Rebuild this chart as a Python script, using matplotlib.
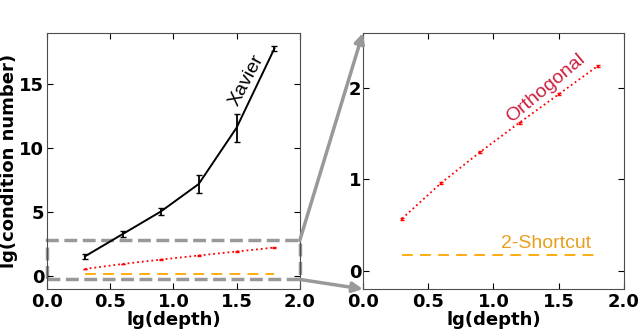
import numpy as np
import matplotlib
matplotlib.use("Agg")
import matplotlib.pyplot as plt
from matplotlib.patches import Rectangle, ConnectionPatch

depth = [0.3, 0.6, 0.9, 1.2, 1.5, 1.8]
xavier = [1.55, 3.3, 5.05, 7.2, 11.6, 17.8]
xavier_err = [0.2, 0.25, 0.3, 0.7, 1.1, 0.2]
orthogonal = [0.57, 0.96, 1.30, 1.62, 1.93, 2.24]
orthogonal_err = [0.01, 0.01, 0.01, 0.01, 0.01, 0.01]
shortcut = [0.175, 0.175, 0.175, 0.175, 0.175, 0.175]

zoom_lo, zoom_hi = -0.2, 2.6

plt.rcParams["font.size"] = 13
plt.rcParams["font.weight"] = "bold"
plt.rcParams["axes.labelweight"] = "bold"

fig = plt.figure(figsize=(6.4, 3.33), dpi=100)
ax1 = fig.add_axes([0.0734, 0.132, 0.395, 0.769])
ax2 = fig.add_axes([0.567, 0.132, 0.408, 0.769])

for ax in (ax1, ax2):
    ax.plot(depth, shortcut, "--", color="orange", lw=1.3, dashes=(6, 4))
    ax.errorbar(depth, orthogonal, yerr=orthogonal_err, fmt=":", color="red",
                lw=1.3, capsize=1.5)
    ax.set_xlim(0, 2)
    ax.set_xticks([0, 0.5, 1.0, 1.5, 2.0])
    ax.set_xlabel("lg(depth)", labelpad=0)
    ax.tick_params(direction="in", top=True, right=True, length=4, pad=3)
    for s in ax.spines.values():
        s.set_color("0.3")

ax1.errorbar(depth, xavier, yerr=xavier_err, fmt="-", color="black", lw=1.4,
             capsize=2.5, elinewidth=1.3)
ax1.set_ylim(-1, 19)
ax1.set_yticks([0, 5, 10, 15])
ax1.set_ylabel("lg(condition number)", labelpad=1)
ax1.tick_params(axis="y", pad=2)
ax1.text(1.58, 15.3, "Xavier", rotation=62, ha="center", va="center",
         fontsize=14, fontweight="normal", family="Liberation Sans")

ax2.set_ylim(zoom_lo, zoom_hi)
ax2.set_yticks([0, 1, 2])
ax2.tick_params(axis="y", pad=1)
ax2.text(1.40, 2.0, "Orthogonal", rotation=40, ha="center", va="center",
         fontsize=14, fontweight="normal", family="Liberation Sans",
         color="#cc2040")
ax2.text(1.40, 0.295, "2-Shortcut", ha="center", va="center", fontsize=14,
         fontweight="normal", family="Liberation Sans", color="#e8a020")

rect = Rectangle((0, -0.25), 2, 3.05, fill=False,
                 ls="--", lw=2.5, ec="0.6", clip_on=False)
ax1.add_patch(rect)

for y1, y2 in ((2.8, zoom_hi), (-0.25, zoom_lo)):
    con = ConnectionPatch(xyA=(2, y1), coordsA=ax1.transData,
                          xyB=(0, y2), coordsB=ax2.transData,
                          arrowstyle="-|>", mutation_scale=15, lw=2.5,
                          color="0.6")
    fig.add_artist(con)

fig.savefig("out.png", dpi=100)
plt.close(fig)
